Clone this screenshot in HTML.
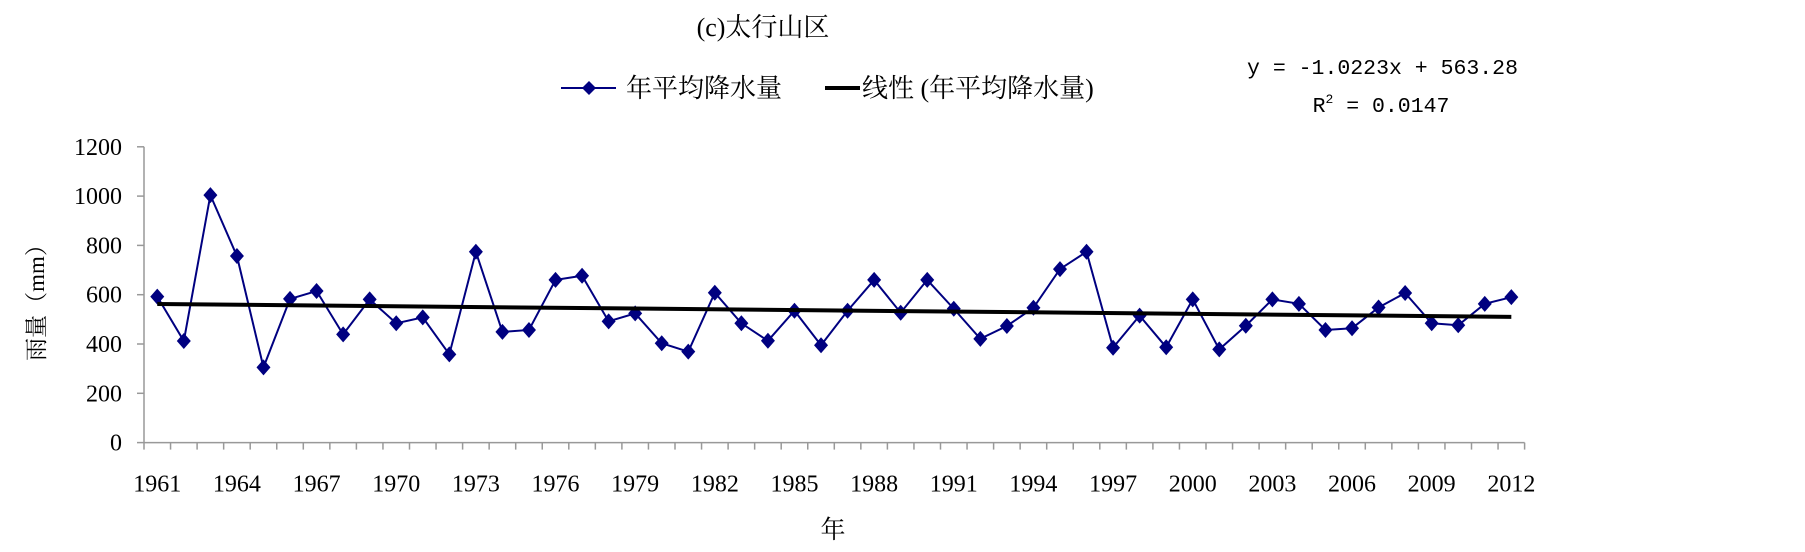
<!DOCTYPE html>
<html><head><meta charset="utf-8"><style>
body{margin:0;background:#fff;}
svg{display:block;font-family:"Liberation Serif","Noto Serif CJK SC",serif;}
</style></head><body>
<svg width="1805" height="552" id="chart">
<text x="763" y="36" font-size="26" text-anchor="middle" font-family="Liberation Serif,Noto Serif CJK SC,serif">(c)太行山区</text>
<g>
<g>
<line x1="561" y1="88" x2="616" y2="88" stroke="#000080" stroke-width="2"/>
<path d="M589 81 L596 88 L589 95 L582 88Z" fill="#000080"/>
<text x="626" y="97" font-size="26" font-family="Liberation Serif,Noto Serif CJK SC,serif">年平均降水量</text>
</g>
<g>
<line x1="825" y1="88" x2="860" y2="88" stroke="#000" stroke-width="4"/>
<text x="862" y="97" font-size="26" font-family="Liberation Serif,Noto Serif CJK SC,serif">线性 (年平均降水量)</text>
</g>
</g>
<text x="1518" y="74" font-size="21.5" text-anchor="end" font-family="Liberation Mono,monospace">y = -1.0223x + 563.28</text>
<text x="1381" y="112" font-size="21.5" text-anchor="middle" font-family="Liberation Mono,monospace">R<tspan dy="-9" font-size="13">2</tspan><tspan dy="9"> = 0.0147</tspan></text>
<text transform="translate(44,297) rotate(-90)" font-size="23" text-anchor="middle" font-family="Liberation Serif,Noto Serif CJK SC,serif">雨量（mm）</text>
<text x="833" y="538" font-size="25" text-anchor="middle" font-family="Liberation Serif,Noto Serif CJK SC,serif">年</text>
<g id="axes"></g><g id="marks"></g>
</svg>
<script>
const years=[1961,1962,1963,1964,1965,1966,1967,1968,1969,1970,1971,1972,1973,1974,1975,1976,1977,1978,1979,1980,1981,1982,1983,1984,1985,1986,1987,1988,1989,1990,1991,1992,1993,1994,1995,1996,1997,1998,1999,2000,2001,2002,2003,2004,2005,2006,2007,2008,2009,2010,2011,2012];
const rainfall=[592,412,1004,757,305,583,615,439,581,484,508,358,774,449,457,660,677,492,524,403,369,608,484,413,535,395,535,660,527,660,543,421,473,547,704,774,385,515,387,581,378,474,581,563,457,464,548,607,484,476,563,590];
const yTicks=[0,200,400,600,800,1000,1200];
const trendSlope=-1.0223, trendIntercept=563.28;
const NS="http://www.w3.org/2000/svg";
const x0=144,step=26.55,yBase=442.6,yScale=49.3/200;
const X=i=>x0+step*(i+0.5), Y=v=>yBase-v*yScale;
const ax=document.getElementById('axes'),mk=document.getElementById('marks');
function el(t,a,p){const e=document.createElementNS(NS,t);for(const k in a)e.setAttribute(k,a[k]);p.appendChild(e);return e;}
const xa=el('line',{x1:x0,y1:yBase,x2:x0+step*years.length,y2:yBase,stroke:'#999','stroke-width':1.5},ax);


const ya=el('line',{x1:x0,y1:Y(1200),x2:x0,y2:yBase,stroke:'#999','stroke-width':1.5},ax);


yTicks.forEach(v=>{
 el('line',{x1:x0-7,y1:Y(v),x2:x0,y2:Y(v),stroke:'#999','stroke-width':1.5},ax);
 const t=el('text',{x:x0-22,y:Y(v)+8,'font-size':24,'text-anchor':'end'},ax);t.textContent=v;
 
 
});
for(let k=0;k<=years.length;k++)el('line',{x1:x0+step*k,y1:yBase,x2:x0+step*k,y2:yBase+7,stroke:'#999','stroke-width':1.5},ax);
years.forEach((y,i)=>{if(i%3===0||i===years.length-1){const t=el('text',{x:X(i),y:yBase+49,'font-size':24,'text-anchor':'middle'},ax);t.textContent=y;
 
 }});
const pl=el('polyline',{points:rainfall.map((v,i)=>X(i)+','+Y(v)).join(' '),fill:'none',stroke:'#000080','stroke-width':2},mk);


rainfall.forEach((v,i)=>{const x=X(i),y=Y(v);
 const p=el('path',{d:`M${x} ${y-8}L${x+7} ${y}L${x} ${y+8}L${x-7} ${y}Z`,fill:'#000080'},mk);
 
 });
const n=years.length;
const tl=el('line',{x1:X(0),y1:Y(trendIntercept+trendSlope*1),x2:X(n-1),y2:Y(trendIntercept+trendSlope*n),stroke:'#000','stroke-width':4},mk);


</script>
</body></html>
